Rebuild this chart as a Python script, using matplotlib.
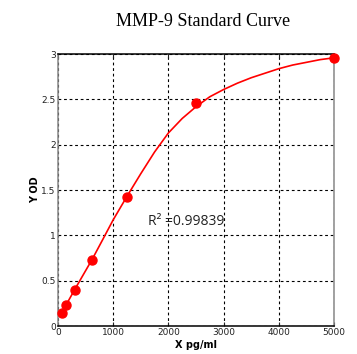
import matplotlib
matplotlib.use('Agg')
import matplotlib.pyplot as plt

# standard points
conc = [78, 156, 312.5, 625, 1250, 2500, 5000]
od = [0.14, 0.23, 0.40, 0.73, 1.42, 2.46, 2.96]

# fitted curve
curva_x = [78, 156, 312.5, 625, 800, 1000, 1250, 1500, 1750, 2000, 2250, 2500,
           2750, 3000, 3250, 3500, 3750, 4000, 4250, 4500, 4750, 5000]
curva_y = [0.15, 0.24, 0.41, 0.74, 0.94, 1.17, 1.43, 1.68, 1.92, 2.13, 2.29, 2.42,
           2.53, 2.61, 2.68, 2.74, 2.79, 2.84, 2.88, 2.91, 2.94, 2.96]

r2_texto = 'R\u00b2 =0.99839'
xticks = [0, 1000, 2000, 3000, 4000, 5000]
yticks = [0, 0.5, 1, 1.5, 2, 2.5, 3]
yticklabels = ['0', '0.5', '1', '1.5', '2', '2.5', '3']

fig = plt.figure(figsize=(3.57, 3.54), dpi=100)
ax = fig.add_axes([0.162, 0.079, 0.774, 0.768])

ax.plot(curva_x, curva_y, color='red', linewidth=1.2, zorder=3)
ax.plot(conc, od, 'o', color='red', markersize=6.5, zorder=4, clip_on=False)

ax.set_xlim(0, 5000)
ax.set_ylim(0, 3)
ax.set_xticks(xticks)
ax.set_xticklabels([str(v) for v in xticks])
ax.set_yticks(yticks)
ax.set_yticklabels(yticklabels)
ax.tick_params(direction='in', length=3, labelsize=6.5, pad=1.5, colors='#222222',
               top=True, right=False, left=False)
ax.grid(True, linestyle=(0, (2.5, 2.5)), color='black', linewidth=0.8)

for lado in ['top', 'bottom']:
    ax.spines[lado].set_color('black')
    ax.spines[lado].set_linewidth(1.1)
for lado in ['left', 'right']:
    ax.spines[lado].set_color('#888888')
    ax.spines[lado].set_linewidth(1.1)

ax.set_xlabel('X pg/ml', fontsize=7, fontweight='bold', labelpad=2)
ax.set_ylabel('Y OD', fontsize=7, fontweight='bold', labelpad=1)

ax.text(1630, 1.15, r2_texto, fontsize=10, family='Open Sans', color='#222222',
        va='center', ha='left')

fig.text(0.57, 0.94, 'MMP-9 Standard Curve', fontsize=13, family='Liberation Serif',
         ha='center', va='center')

plt.savefig('out.png', dpi=100)
